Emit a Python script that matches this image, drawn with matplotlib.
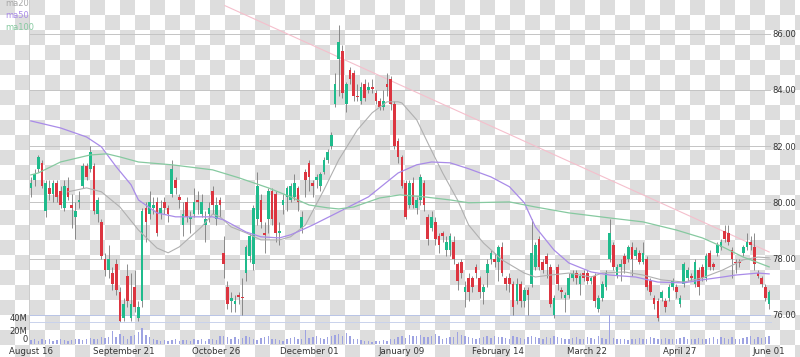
import numpy as np
import matplotlib
matplotlib.use("Agg")
import matplotlib.pyplot as plt

# DAILY CANDLES (Aug 16 -> Jun 01)
opens = [
    80.5, 80.8, 81.2, 81.4, 79.7, 80.5, 80.3, 80.7, 80.4, 79.8,
    80.5, 79.9, 79.5, 80.0, 80.6, 81.3, 81.2, 81.3, 79.6, 79.3,
    78.0, 77.6, 77.5, 77.8, 76.8, 75.9, 77.4, 75.9, 77.0, 75.9,
    76.5, 79.8, 79.6, 79.8, 80.0, 79.6, 80.0, 79.8, 80.3, 80.8,
    80.2, 79.2, 80.0, 79.4, 79.6, 80.1, 79.6, 79.2, 79.6, 80.4,
    79.4, 80.1, 78.2, 77.0, 76.5, 76.4, 76.7, 76.65, 77.5, 78.1,
    77.8, 79.4, 80.1, 78.9, 79.4, 80.4, 80.3, 78.9, 79.9, 80.2,
    80.1, 80.2, 80.5, 79.1, 81.1, 81.4, 80.7, 80.8, 80.6, 81.1,
    81.5, 82.0, 83.5, 85.1, 85.4, 83.5, 84.7, 84.6, 83.8, 83.6,
    84.2, 84.0, 84.1, 83.9, 83.6, 83.4, 84.2, 84.4, 83.5, 82.2,
    81.6, 80.7, 79.9, 80.7, 79.8, 80.1, 80.7, 79.5, 79.1, 79.3,
    78.8, 78.9, 78.3, 78.3, 78.6, 77.8, 77.9, 76.8, 77.3, 77.3,
    77.7, 77.3, 76.8, 77.5, 78.0, 78.0, 77.9, 78.4, 77.3, 77.3,
    77.1, 76.5, 77.1, 76.5, 76.9, 77.1, 77.7, 78.7, 77.9, 78.1,
    77.7, 76.0, 77.7, 76.9, 76.6, 76.7, 77.3, 77.5, 77.1, 77.5,
    77.5, 77.2, 77.4, 76.2, 76.6, 77.0, 78.0, 78.5, 77.4, 77.7,
    78.1, 78.0, 78.4, 78.1, 78.2, 77.9, 78.0, 77.2, 76.6, 76.5,
    76.6, 76.5, 76.6, 77.0, 77.0, 76.4, 77.1, 77.3, 77.4, 77.1,
    77.6, 77.7, 77.3, 78.2, 77.8, 78.2, 78.4, 79.0, 78.9, 78.3,
    77.9, 77.9, 78.2, 78.4, 78.6, 78.4, 77.5, 77.3, 77.0, 76.4,
]
closes = [
    80.7, 81.0, 81.6, 80.6, 80.7, 80.3, 80.7, 80.2, 79.9, 80.6,
    80.2, 79.8, 79.7, 80.1, 81.3, 80.9, 81.8, 79.7, 80.1, 78.1,
    77.6, 78.0, 77.1, 76.9, 75.8, 76.4, 76.5, 76.4, 76.3, 76.3,
    79.7, 79.3, 80.0, 79.9, 78.9, 79.8, 79.8, 79.6, 81.2, 80.5,
    80.1, 79.6, 79.5, 79.5, 80.0, 80.0, 80.0, 79.4, 79.8, 79.9,
    79.9, 79.9, 77.8, 76.4, 76.6, 76.5, 76.65, 76.6, 78.4, 78.8,
    79.8, 80.6, 79.3, 78.85, 80.4, 79.4, 78.9, 79.0, 80.1, 80.5,
    80.6, 80.7, 80.0, 79.5, 80.8, 80.9, 80.6, 80.9, 81.0, 81.5,
    81.8, 82.4, 84.2, 85.7, 83.9, 84.2, 84.4, 83.8, 83.75, 84.1,
    83.7, 84.1, 84.05, 83.6, 83.4, 83.6, 84.1, 83.5, 82.0, 81.6,
    80.6, 79.5, 80.7, 79.9, 80.1, 80.9, 79.9, 78.7, 79.5, 78.7,
    78.5, 78.8, 78.6, 78.8, 78.0, 77.2, 77.5, 77.0, 76.8, 77.0,
    77.5, 76.8, 77.0, 77.8, 78.2, 77.9, 78.4, 77.5, 77.1, 77.1,
    76.3, 77.1, 76.5, 76.9, 76.7, 78.2, 78.5, 77.7, 77.6, 77.8,
    76.4, 76.6, 77.1, 76.8, 76.7, 77.3, 77.5, 77.3, 77.4, 77.3,
    77.2, 77.3, 76.5, 76.6, 77.1, 77.5, 78.9, 77.7, 77.7, 77.8,
    77.8, 78.4, 78.0, 78.3, 77.9, 78.2, 77.0, 76.8, 76.4, 75.9,
    76.8, 76.3, 77.0, 77.2, 76.8, 76.6, 77.8, 77.6, 77.3, 77.9,
    77.0, 77.3, 78.1, 77.7, 77.7, 78.5, 78.6, 78.7, 78.6, 78.0,
    77.85, 77.85, 78.4, 78.6, 78.5, 77.8, 77.4, 77.1, 76.6, 76.8,
]
highs = [
    80.9, 81.2, 81.7, 81.5, 80.8, 80.8, 80.8, 80.8, 80.6, 80.8,
    80.9, 80.3, 80.0, 80.4, 81.4, 81.4, 82.0, 81.4, 80.2, 79.4,
    78.2, 78.5, 77.7, 78.0, 77.0, 76.6, 77.8, 77.5, 77.6, 76.5,
    79.8, 80.0, 80.4, 80.2, 80.2, 80.1, 80.2, 79.9, 81.5, 80.9,
    80.3, 80.0, 80.2, 79.7, 80.5, 80.4, 80.3, 79.7, 80.0, 80.6,
    80.2, 80.2, 78.8, 77.2, 76.8, 76.7, 76.8, 77.3, 78.5, 78.9,
    79.9, 81.1, 80.3, 79.3, 80.5, 80.5, 80.4, 79.3, 80.3, 80.6,
    80.7, 81.0, 80.6, 79.7, 81.2, 81.5, 80.8, 81.0, 81.1, 81.6,
    81.9, 82.5, 84.6, 86.3, 85.6, 84.3, 84.8, 84.7, 84.2, 84.3,
    84.4, 84.3, 84.4, 84.0, 83.7, 84.0, 84.6, 84.5, 83.6, 82.3,
    81.7, 80.8, 80.8, 80.9, 80.2, 81.0, 80.8, 79.6, 79.7, 79.5,
    78.9, 79.0, 78.8, 78.9, 78.8, 77.9, 78.0, 77.2, 77.5, 77.4,
    77.8, 77.4, 77.1, 78.0, 78.3, 78.2, 78.5, 78.6, 77.4, 77.5,
    77.2, 77.3, 77.2, 77.0, 77.0, 79.4, 78.6, 78.8, 78.0, 78.2,
    77.8, 76.7, 77.8, 77.0, 76.8, 77.5, 77.6, 77.6, 77.5, 77.6,
    77.6, 77.4, 77.5, 76.7, 77.2, 77.6, 79.4, 78.6, 77.8, 78.0,
    78.2, 78.5, 78.6, 78.4, 78.3, 78.6, 78.1, 77.3, 76.7, 76.6,
    76.9, 76.6, 77.1, 77.3, 77.1, 76.7, 77.9, 77.7, 77.5, 78.0,
    77.7, 77.8, 78.2, 78.3, 77.9, 78.6, 78.7, 79.2, 79.2, 78.4,
    78.0, 78.0, 78.5, 78.9, 78.8, 78.9, 77.6, 77.4, 77.1, 76.9,
]
lows = [
    80.2, 80.6, 81.1, 80.5, 79.5, 80.1, 80.0, 80.0, 79.8, 79.7,
    80.1, 79.1, 78.7, 79.8, 80.5, 80.8, 81.1, 79.6, 79.3, 78.0,
    77.4, 77.3, 76.9, 76.7, 75.7, 75.8, 76.3, 75.8, 76.1, 75.8,
    76.3, 78.6, 79.4, 79.6, 78.8, 79.4, 79.6, 79.3, 80.2, 80.3,
    79.8, 78.8, 79.3, 78.9, 79.5, 79.6, 79.5, 78.6, 79.3, 79.6,
    79.2, 79.5, 77.3, 76.2, 76.1, 76.1, 76.4, 76.0, 77.2, 77.9,
    77.6, 79.2, 79.1, 78.2, 78.9, 79.2, 78.6, 78.5, 79.6, 79.7,
    80.0, 80.1, 79.7, 78.9, 80.2, 80.4, 80.2, 80.5, 80.4, 81.0,
    81.4, 81.9, 83.4, 83.8, 83.7, 83.2, 84.2, 83.6, 83.6, 83.5,
    83.6, 83.9, 83.9, 83.5, 83.3, 83.3, 83.8, 83.3, 81.9, 81.4,
    80.5, 79.4, 79.8, 79.8, 79.6, 79.9, 79.7, 78.5, 79.0, 78.5,
    78.2, 78.6, 78.1, 78.1, 77.8, 76.9, 77.3, 76.3, 76.5, 76.8,
    77.3, 76.6, 76.4, 77.0, 77.8, 77.7, 77.2, 77.4, 76.9, 76.8,
    76.0, 76.4, 76.3, 76.3, 76.0, 77.0, 77.6, 77.6, 77.5, 77.3,
    76.3, 75.9, 76.9, 76.6, 76.1, 76.6, 77.2, 77.1, 76.7, 77.2,
    77.1, 77.1, 76.3, 76.1, 76.5, 76.9, 77.9, 77.6, 77.3, 77.2,
    77.5, 77.9, 77.4, 78.0, 77.8, 77.8, 76.9, 76.7, 76.2, 75.8,
    76.5, 76.1, 76.5, 76.9, 76.6, 76.3, 77.0, 77.2, 77.2, 77.0,
    76.7, 77.2, 77.2, 77.6, 77.6, 78.1, 78.3, 78.6, 78.5, 77.3,
    77.5, 77.7, 78.1, 78.3, 78.3, 77.6, 77.3, 77.0, 76.5, 76.2,
]
# volume in millions
volumes = [
    6, 7, 5, 8, 6, 7, 5, 6, 7, 6,
    5, 6, 7, 8, 6, 7, 9, 8, 7, 10,
    9, 11, 20, 10, 16, 12, 8, 12, 14, 18,
    25, 14, 10, 8, 6, 5, 6, 5, 6, 7,
    5, 6, 6, 5, 7, 6, 7, 5, 7, 8,
    6, 13, 12, 10, 8, 11, 7, 9, 12, 11,
    8, 6, 9, 10, 13, 7, 8, 6, 5, 7,
    9, 10, 8, 8, 21, 9, 10, 12, 9, 8,
    10, 12, 14, 16, 13, 17, 12, 8, 7, 6,
    5, 4, 3, 4, 5, 6, 5, 7, 8, 10,
    12, 9, 14, 13, 12, 14, 11, 10, 12, 15,
    12, 8, 9, 10, 11, 18, 14, 12, 10, 9,
    8, 9, 10, 12, 9, 13, 11, 10, 9, 8,
    12, 11, 9, 8, 10, 12, 11, 9, 8, 10,
    9, 12, 10, 9, 8, 7, 9, 11, 8, 7,
    10, 9, 8, 12, 9, 8, 45, 9, 8, 7,
    8, 6, 7, 8, 9, 7, 8, 10, 9, 8,
    7, 9, 8, 7, 8, 9, 10, 8, 7, 8,
    9, 7, 8, 9, 10, 8, 11, 9, 8, 10,
    7, 8, 9, 10, 12, 8, 11, 9, 10, 13,
]

# MOVING AVERAGES
ma20_idx = [10, 15, 19, 24, 29, 34, 37, 40, 46, 49, 51, 54, 58, 62, 67, 70, 74, 79, 83, 88,
            92, 96, 99, 100, 104, 107.5, 111, 115, 118, 122, 127, 133, 136, 140, 145, 151,
            154, 160, 165, 170, 176, 181, 186.5, 192, 196, 199]
ma20_val = [80.38, 80.52, 80.38, 79.84, 79.02, 78.38, 78.21, 78.42, 79.13, 79.59, 79.49, 79.13,
            78.92, 78.67, 78.67, 78.78, 79.20, 80.45, 81.52, 82.58, 83.19, 83.58, 83.58, 83.54,
            82.94, 81.98, 81.05, 80.09, 79.20, 78.56, 77.96, 77.49, 77.35, 77.42, 77.49, 77.35,
            77.49, 77.53, 77.42, 77.25, 77.17, 77.32, 77.60, 77.96, 78.06, 78.03]
ma50_idx = [0, 8, 15, 19, 23, 27, 29, 34, 39, 49, 52, 58, 62, 67, 70, 73, 76, 82.5, 91, 99,
            104, 108, 113, 118, 124, 129, 133, 136, 141, 145, 151, 156, 163, 169, 176, 181,
            186.5, 190, 196, 199]
ma50_val = [82.90, 82.65, 82.33, 81.98, 81.27, 80.63, 80.09, 79.63, 79.49, 79.49, 79.38, 78.95,
            78.78, 78.74, 78.85, 79.02, 79.20, 79.63, 80.20, 81.05, 81.34, 81.44, 81.41, 81.20,
            80.91, 80.56, 79.99, 79.13, 78.31, 77.85, 77.53, 77.42, 77.35, 77.17, 77.14, 77.25,
            77.35, 77.42, 77.49, 77.46]
ma100_idx = [0, 2, 8, 16, 20.5, 24, 29, 38, 49, 56, 64, 70, 75, 80, 83, 87, 94, 99.5, 106, 113,
             118, 129, 136, 145, 156, 165, 174, 181, 186.5, 192, 199]
ma100_val = [80.98, 81.05, 81.44, 81.69, 81.73, 81.62, 81.44, 81.34, 81.16, 80.88, 80.52, 80.20,
             79.91, 79.81, 79.77, 79.84, 80.16, 80.27, 80.20, 80.09, 79.99, 80.02, 79.84, 79.63,
             79.45, 79.31, 79.02, 78.74, 78.42, 78.06, 77.71]
# trend line end points (index, price)
trend_idx = [52.3, 199]
trend_val = [87.0, 78.24]

tick_idx = [0, 25, 50, 75, 100, 126, 150, 175, 199]
tick_labels = ["August 16", "September 21", "October 26", "December 01", "January 09",
               "February 14", "March 22", "April 27", "June 01"]
price_ticks = [76, 78, 80, 82, 84, 86]

UP = "#1fbb8c"
DOWN = "#dc3540"

W, H = 800, 357
fig = plt.figure(figsize=(W / 100, H / 100), dpi=100)

# transparent-looking checker background
yy, xx = np.mgrid[0:H, 0:W]
cells = ((xx // 15 + yy // 15) % 2 == 0)
bg = np.where(cells[..., None], np.array([0.87, 0.87, 0.87]), np.array([1.0, 1.0, 1.0]))
fig.figimage(bg, 0, 0, origin="upper", zorder=-10)

# PRICE PANEL
ax = fig.add_axes([29 / W, (H - 322) / H, 742 / W, 322 / H])
ax.set_facecolor("none")
n = len(closes)
x = np.arange(n)
for i in range(n):
    o, c = opens[i], closes[i]
    col = UP if c >= o else DOWN
    ax.vlines(i, lows[i], highs[i], color="#7a7a7a", lw=0.6, zorder=3)
    ax.bar(i, max(abs(c - o), 0.04), bottom=min(o, c), width=0.72, color=col,
           linewidth=0, zorder=4)

ax.plot(ma20_idx, ma20_val, color="#b0b0b0", lw=0.8, zorder=5)
ax.plot(ma50_idx, ma50_val, color="#a98be8", lw=0.9, zorder=5)
ax.plot(ma100_idx, ma100_val, color="#86c9a0", lw=0.9, zorder=5)
ax.plot(trend_idx, trend_val, color="#f5bfcc", lw=0.8, zorder=2)

ax.set_xlim(-0.5, n - 0.5)
ax.set_ylim(75.75, 87.2)
ax.set_yticks(price_ticks)
ax.set_yticklabels([f"{p:.2f}" for p in price_ticks], fontsize=6, color="#333333")
ax.yaxis.tick_right()
ax.tick_params(axis="y", length=0, pad=1)
ax.set_xticks([])
ax.grid(axis="y", color="#c4c4c4", lw=0.7, zorder=0)
ax.get_ygridlines()[0].set_color("#b8c4e6")
for s in ["top", "right"]:
    ax.spines[s].set_visible(False)
ax.spines["left"].set_color("#cccccc")
ax.spines["left"].set_linewidth(0.7)
ax.spines["bottom"].set_color("#c9d2ec")
ax.spines["bottom"].set_linewidth(0.7)

# VOLUME PANEL
vax = fig.add_axes([29 / W, (H - 344) / H, 742 / W, 29 / H])
vax.set_facecolor("none")
vax.bar(x, np.array(volumes) * 1e6, width=0.38, color="#9ea3e2", linewidth=0)
vax.set_xlim(-0.5, n - 0.5)
vax.set_ylim(0, 44.6e6)
vax.set_yticks([0, 20e6, 40e6])
vax.set_yticklabels(["0", "20M", "40M"], fontsize=6, color="#333333")
vax.get_yticklabels()[0].set_va("bottom")
vax.tick_params(axis="y", length=0, pad=1)
vax.set_xticks(tick_idx)
vax.set_xticklabels(tick_labels, fontsize=6.2, color="#333333")
vax.tick_params(axis="x", length=0, pad=2.5)
for s in ["top", "right", "bottom"]:
    vax.spines[s].set_visible(False)
vax.spines["left"].set_color("#cccccc")
vax.spines["left"].set_linewidth(0.7)

# legend labels at top left
fig.text(5 / W, 1 - 3 / H, "ma20", fontsize=6, color="#a8a8a8", va="center")
fig.text(5 / W, 1 - 16 / H, "ma50", fontsize=6, color="#a98be8", va="center")
fig.text(5 / W, 1 - 28 / H, "ma100", fontsize=6, color="#86c9a0", va="center")

fig.savefig("out.png", dpi=100)
